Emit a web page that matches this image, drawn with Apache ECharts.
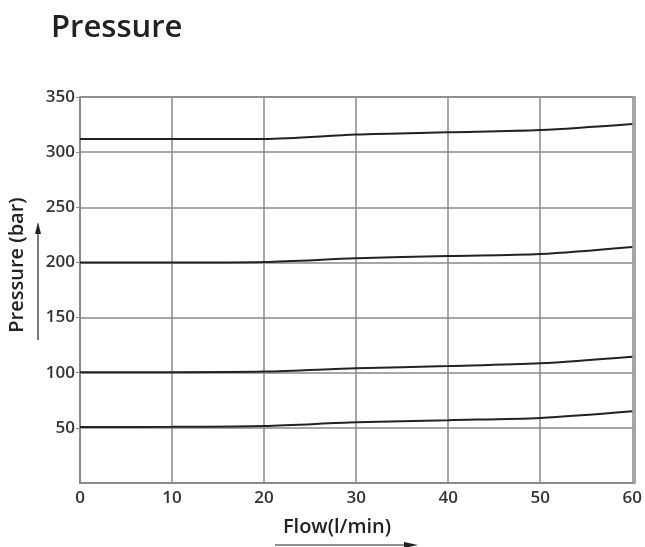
<!DOCTYPE html>
<html>
<head>
<meta charset="utf-8">
<script src="https://cdn.jsdelivr.net/npm/echarts@6/dist/echarts.min.js"></script>
<style>html,body{margin:0;padding:0;background:#fff}#c{width:645px;height:547px}</style>
</head>
<body>
<div id="c"></div>
<script>
var flow = [0, 10, 20, 30, 40, 50, 60];
var curve300 = [312, 312, 312, 316, 318, 320, 325.5];
var curve200 = [200, 200, 200.5, 203.7, 205.8, 207.6, 214];
var curve100 = [100.5, 100.5, 101, 104, 106, 108.5, 114.5];
var curve50 = [50.8, 51, 51.7, 55, 57, 59, 65];
var xTicks = [0, 10, 20, 30, 40, 50, 60];
var yTicks = [0, 50, 100, 150, 200, 250, 300, 350];

function mk(vals) {
  return {
    type: 'line', smooth: 0.3, symbol: 'none',
    data: flow.map(function (f, i) { return [f, vals[i]]; }),
    lineStyle: { color: '#222', width: 2 }
  };
}
var font = 'Open Sans';
var chart = echarts.init(document.getElementById('c'));
chart.setOption({
  animation: false,
  title: { text: 'Pressure', left: 46, top: 8, textStyle: { fontFamily: font, fontSize: 31, fontWeight: 600, color: '#222' } },
  grid: { left: 80, right: 10, top: 97, bottom: 64 },
  xAxis: {
    type: 'value', min: 0, max: 60, interval: 10,
    axisLine: { show: true, lineStyle: { color: '#888', width: 1.5 } },
    axisTick: { show: false },
    splitLine: { show: true, lineStyle: { color: '#888', width: 1.5 } },
    axisLabel: { color: '#333', fontFamily: font, fontSize: 17, fontWeight: 600, margin: 7 }
  },
  yAxis: {
    type: 'value', min: 0, max: 350, interval: 50,
    axisLine: { show: true, lineStyle: { color: '#888', width: 1.5 } },
    axisTick: { show: true, length: 4, lineStyle: { color: '#888' } },
    splitLine: { show: true, lineStyle: { color: '#888', width: 1.5 } },
    axisLabel: { color: '#333', fontFamily: font, fontSize: 17, fontWeight: 600, margin: 5, showMinLabel: false }
  },
  graphic: [
    { type: 'rect', shape: { x: 80, y: 97, width: 555, height: 386 }, style: { fill: 'none', stroke: '#888', lineWidth: 1.5 }, silent: true },
    { type: 'text', x: 17, y: 265, rotation: Math.PI / 2, style: { text: 'Pressure (bar)', fontFamily: font, fontSize: 20, fontWeight: 600, fill: '#222', align: 'center', verticalAlign: 'middle' } },
    { type: 'line', shape: { x1: 38, y1: 340, x2: 38, y2: 230 }, style: { stroke: '#222', lineWidth: 1.2 } },
    { type: 'polygon', shape: { points: [[38, 222], [35, 234], [41, 234]] }, style: { fill: '#222' } },
    { type: 'text', x: 337, y: 527, style: { text: 'Flow(l/min)', fontFamily: font, fontSize: 20, fontWeight: 600, fill: '#222', align: 'center', verticalAlign: 'middle' } },
    { type: 'line', shape: { x1: 275, y1: 545, x2: 408, y2: 545 }, style: { stroke: '#222', lineWidth: 1.2 } },
    { type: 'polygon', shape: { points: [[418, 545], [404, 542], [404, 548]] }, style: { fill: '#222' } }
  ],
  series: [mk(curve300), mk(curve200), mk(curve100), mk(curve50)]
});
</script>
</body>
</html>
